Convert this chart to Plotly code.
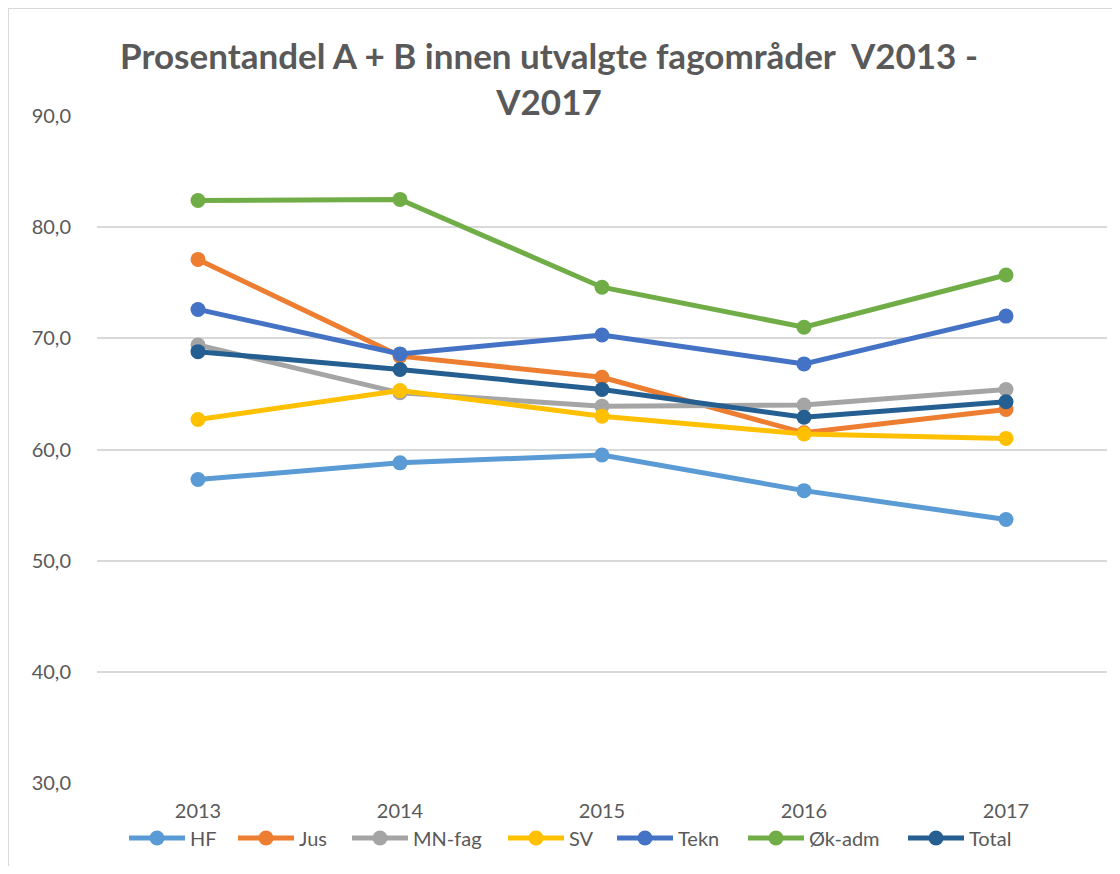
import plotly.graph_objects as go

years = ["2013", "2014", "2015", "2016", "2017"]
series_names = ["HF", "Jus", "MN-fag", "SV", "Tekn", "Øk-adm", "Total"]
hf = [57.3, 58.8, 59.5, 56.3, 53.7]
jus = [77.1, 68.4, 66.5, 61.5, 63.6]
mn_fag = [69.4, 65.1, 63.9, 64.0, 65.4]
sv = [62.7, 65.3, 63.0, 61.4, 61.0]
tekn = [72.6, 68.6, 70.3, 67.7, 72.0]
ok_adm = [82.4, 82.5, 74.6, 71.0, 75.7]
total = [68.8, 67.2, 65.4, 62.9, 64.3]
colors = ["#5B9BD5", "#ED7D31", "#A5A5A5", "#FFC000", "#4472C4", "#70AD47", "#255E91"]

data = [hf, jus, mn_fag, sv, tekn, ok_adm, total]

# figure sized to fit page with the default 8px body margin
OFF = 8
W, H = 1104, 858
L, R, T, B = 89, 5, 108, 83
pw, ph = W - L - R, H - T - B

# legend entry start positions (page px) - layout only
legend_starts = [129, 238, 352, 508, 617, 748, 908]

fig = go.Figure()
legends = {}
for i, (name, vals, col) in enumerate(zip(series_names, data, colors)):
    lg = "legend" if i == 0 else f"legend{i + 1}"
    fig.add_trace(go.Scatter(
        x=years, y=vals, name=name, mode="lines+markers",
        line=dict(color=col, width=5),
        marker=dict(color=col, size=15),
        legend=lg, showlegend=True,
    ))
    legends[lg] = dict(
        orientation="h",
        x=(legend_starts[i] - OFF - 5) / W, xanchor="left", xref="container",
        y=1 - 830 / H, yanchor="middle", yref="container",
        font=dict(size=20, color="#595959", family="Lato, sans-serif"),
        itemwidth=56, bgcolor="rgba(0,0,0,0)", borderwidth=0,
        visible=True,
    )

fig.update_layout(
    width=W, height=H,
    showlegend=True,
    margin=dict(l=L, r=R, t=T, b=B, autoexpand=False),
    paper_bgcolor="white", plot_bgcolor="white",
    separators=",.",
    font=dict(family="Lato, sans-serif", color="#595959", size=20),
    title=dict(
        text="<b>Prosentandel A + B innen utvalgte fagområder  V2013 -<br>V2017</b>",
        x=541 / W, xanchor="center", xref="container",
        y=1 - 61 / H, yanchor="top", yref="container",
        font=dict(size=35, color="#595959", family="Lato, sans-serif"),
    ),
    xaxis=dict(
        type="category", range=[-0.5, 4.5],
        showgrid=False, showline=False, zeroline=False,
        ticks="", tickfont=dict(size=20, color="#595959"),
        ticklabelstandoff=14, automargin=False,
    ),
    yaxis=dict(
        range=[30, 90], dtick=10, tickformat=".1f",
        showgrid=True, gridcolor="#D9D9D9", gridwidth=1.5,
        zeroline=False, showline=False, ticks="",
        tickfont=dict(size=20, color="#595959"),
        ticklabelstandoff=25, automargin=False,
    ),
    shapes=[dict(
        type="rect", xref="paper", yref="paper",
        x0=(0 - L) / pw, x1=(W + 20 - L) / pw,
        y0=(H - B - H - 30) / ph, y1=(H - B - 0) / ph,
        line=dict(color="#D9D9D9", width=2), fillcolor="rgba(0,0,0,0)",
        layer="below",
    )],
    **legends,
)

fig.write_html("out.html")
